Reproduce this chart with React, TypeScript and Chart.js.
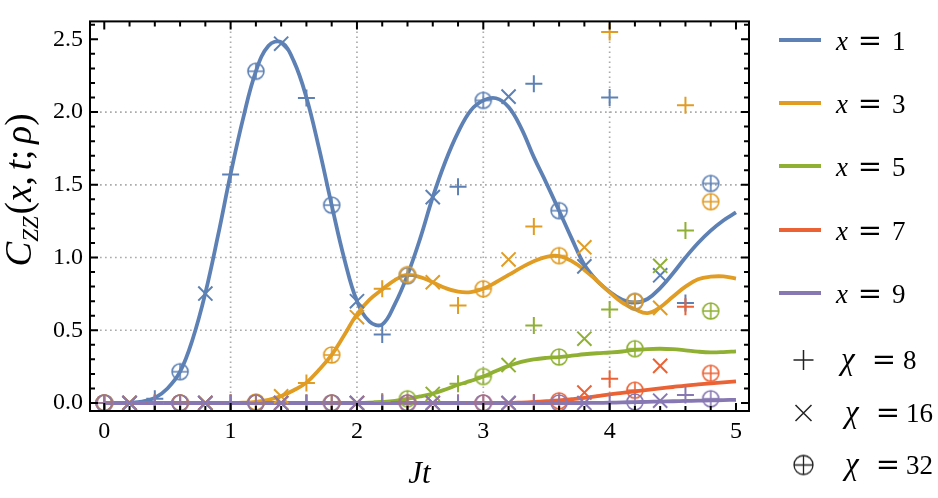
import React, { useEffect, useRef } from "react";
import { Chart, registerables } from "chart.js";

Chart.register(...registerables);

// Time grid (Jt) on which the exact correlation curves are sampled
const T_GRID = [
  0.0, 0.1, 0.2, 0.3, 0.4, 0.5, 0.6, 0.7, 0.8, 0.9,
  1.0, 1.1, 1.2, 1.3, 1.4, 1.5, 1.6, 1.7, 1.8, 1.9,
  2.0, 2.1, 2.2, 2.3, 2.4, 2.5, 2.6, 2.7, 2.8, 2.9,
  3.0, 3.1, 3.2, 3.3, 3.4, 3.5, 3.6, 3.7, 3.8, 3.9,
  4.0, 4.1, 4.2, 4.3, 4.4, 4.5, 4.6, 4.7, 4.8, 4.9, 5.0,
];

// Exact C_ZZ(x,t) curves, one per distance x
const CURVE_X1 = [
  0.000, 0.000, 0.002, 0.010, 0.035, 0.100, 0.215, 0.440, 0.755, 1.150,
  1.575, 1.960, 2.280, 2.455, 2.480, 2.350, 2.100, 1.750, 1.360, 0.990,
  0.700, 0.560, 0.540, 0.680, 0.880, 1.130, 1.415, 1.660, 1.860, 2.010,
  2.080, 2.095, 2.035, 1.890, 1.690, 1.510, 1.322, 1.130, 0.950, 0.840,
  0.765, 0.710, 0.690, 0.715, 0.790, 0.890, 1.000, 1.100, 1.185, 1.255, 1.310,
];
const CURVE_X3 = [
  0.000, 0.000, 0.000, 0.000, 0.000, 0.000, 0.000, 0.000, 0.000, 0.000,
  0.000, 0.002, 0.008, 0.022, 0.048, 0.088, 0.140, 0.228, 0.330, 0.467,
  0.610, 0.710, 0.780, 0.845, 0.880, 0.865, 0.830, 0.790, 0.765, 0.762,
  0.785, 0.830, 0.880, 0.930, 0.975, 1.005, 1.010, 0.975, 0.915, 0.840,
  0.760, 0.690, 0.645, 0.618, 0.658, 0.730, 0.800, 0.850, 0.868, 0.870, 0.855,
];
const CURVE_X5 = [
  0.000, 0.000, 0.000, 0.000, 0.000, 0.000, 0.000, 0.000, 0.000, 0.000,
  0.000, 0.000, 0.000, 0.000, 0.000, 0.000, 0.000, 0.000, 0.000, 0.000,
  0.000, 0.002, 0.007, 0.015, 0.029, 0.045, 0.065, 0.093, 0.125, 0.152,
  0.182, 0.220, 0.255, 0.283, 0.300, 0.310, 0.316, 0.325, 0.335, 0.342,
  0.347, 0.354, 0.365, 0.371, 0.373, 0.370, 0.362, 0.353, 0.348, 0.350, 0.355,
];
const CURVE_X7 = [
  0.000, 0.000, 0.000, 0.000, 0.000, 0.000, 0.000, 0.000, 0.000, 0.000,
  0.000, 0.000, 0.000, 0.000, 0.000, 0.000, 0.000, 0.000, 0.000, 0.000,
  0.000, 0.000, 0.000, 0.000, 0.000, 0.000, 0.000, 0.000, 0.000, 0.000,
  0.000, 0.000, 0.000, 0.003, 0.007, 0.012, 0.018, 0.026, 0.035, 0.047,
  0.060, 0.070, 0.080, 0.090, 0.100, 0.110, 0.120, 0.128, 0.135, 0.142, 0.149,
];
const CURVE_X9 = [
  0.000, 0.000, 0.000, 0.000, 0.000, 0.000, 0.000, 0.000, 0.000, 0.000,
  0.000, 0.000, 0.000, 0.000, 0.000, 0.000, 0.000, 0.000, 0.000, 0.000,
  0.000, 0.000, 0.000, 0.000, 0.000, 0.000, 0.000, 0.000, 0.000, 0.000,
  0.000, 0.000, 0.000, 0.000, 0.000, 0.000, 0.000, 0.000, 0.000, 0.001,
  0.002, 0.004, 0.006, 0.008, 0.010, 0.012, 0.014, 0.016, 0.018, 0.020, 0.022,
];

// Sample times of the bond-dimension runs
const T_CHI8 = [0.4, 1.0, 1.6, 2.2, 2.8, 3.4, 4.0, 4.6];
const T_CHI16 = [0.2, 0.8, 1.4, 2.0, 2.6, 3.2, 3.8, 4.4];
const T_CHI32 = [0.0, 0.6, 1.2, 1.8, 2.4, 3.0, 3.6, 4.2, 4.8];

// chi = 8 results
const X1_CHI8 = [0.03, 1.57, 2.097, 0.47, 1.487, 2.195, 2.1, 0.687];
const X3_CHI8 = [0, 0, 0.138, 0.785, 0.67, 1.213, 2.55, 2.046];
const X5_CHI8 = [0, 0, 0, 0.01, 0.133, 0.533, 0.643, 1.185];
const X7_CHI8 = [0, 0, 0, 0, 0, 0.003, 0.167, 0.662];
const X9_CHI8 = [0, 0, 0, 0, 0, 0, 0, 0.055];

// chi = 16 results
const X1_CHI16 = [0.0, 0.752, 2.47, 0.7, 1.415, 2.106, 0.939, 0.878];
const X3_CHI16 = [0, 0, 0.046, 0.59, 0.83, 0.987, 1.07, 0.654];
const X5_CHI16 = [0, 0, 0, 0, 0.062, 0.261, 0.442, 0.943];
const X7_CHI16 = [0, 0, 0, 0, 0, 0, 0.072, 0.255];
const X9_CHI16 = [0, 0, 0, 0, 0, 0, 0, 0.016];

// chi = 32 results
const X1_CHI32 = [0, 0.215, 2.28, 1.36, 0.875, 2.08, 1.322, 0.697, 1.509];
const X3_CHI32 = [0, 0, 0.007, 0.33, 0.882, 0.785, 1.013, 0.697, 1.384];
const X5_CHI32 = [0, 0, 0, 0, 0.029, 0.182, 0.316, 0.373, 0.632];
const X7_CHI32 = [0, 0, 0, 0, 0, 0, 0.015, 0.088, 0.204];
const X9_CHI32 = [0, 0, 0, 0, 0, 0, 0, 0.007, 0.029];

const DISTANCES = ["1", "3", "5", "7", "9"];
const CHI_VALUES = ["8", "16", "32"];
const COLORS = ["#5E81B5", "#E19C24", "#8FB032", "#EB6235", "#8778B3"];

const CURVES = [CURVE_X1, CURVE_X3, CURVE_X5, CURVE_X7, CURVE_X9];
const CHI8 = [X1_CHI8, X3_CHI8, X5_CHI8, X7_CHI8, X9_CHI8];
const CHI16 = [X1_CHI16, X3_CHI16, X5_CHI16, X7_CHI16, X9_CHI16];
const CHI32 = [X1_CHI32, X3_CHI32, X5_CHI32, X7_CHI32, X9_CHI32];

// Axis ticks
const X_MAJOR = [0, 1, 2, 3, 4, 5];
const X_MINOR = [0.2, 0.4, 0.6, 0.8, 1.2, 1.4, 1.6, 1.8, 2.2, 2.4, 2.6, 2.8, 3.2, 3.4, 3.6, 3.8, 4.2, 4.4, 4.6, 4.8];
const X_GRID = [1, 2, 3, 4];
const Y_MAJOR = [0, 0.5, 1.0, 1.5, 2.0, 2.5];
const Y_MINOR = [0.1, 0.2, 0.3, 0.4, 0.6, 0.7, 0.8, 0.9, 1.1, 1.2, 1.3, 1.4, 1.6, 1.7, 1.8, 1.9, 2.1, 2.2, 2.3, 2.4, 2.6];
const Y_GRID = [0.5, 1.0, 1.5, 2.0];

const X_MIN = -0.113;
const X_MAX = 5.103;
const Y_MIN = -0.055;
const Y_MAX = 2.623;

const SERIF = '"Liberation Serif", "Times New Roman", serif';
const EQ_FONT = '"DejaVu Serif", serif';

function circlePlus(color: string, r: number, lw: number) {
  const size = Math.ceil(2 * r + lw + 2);
  const c = document.createElement("canvas");
  c.width = size;
  c.height = size;
  const g = c.getContext("2d")!;
  const m = size / 2;
  g.strokeStyle = color;
  g.lineWidth = lw;
  g.beginPath();
  g.arc(m, m, r, 0, Math.PI * 2);
  g.moveTo(m - r, m);
  g.lineTo(m + r, m);
  g.moveTo(m, m - r);
  g.lineTo(m, m + r);
  g.stroke();
  return c;
}

type Seg = { t: string; it?: boolean; size: number; dy?: number; gap?: number };

function segWidth(ctx: CanvasRenderingContext2D, s: Seg) {
  ctx.font = `${s.it ? "italic " : ""}${s.size}px ${SERIF}`;
  return ctx.measureText(s.t).width + (s.gap || 0);
}

function drawSegs(ctx: CanvasRenderingContext2D, segs: Seg[], x: number, y: number) {
  let cx = x;
  for (const s of segs) {
    ctx.font = `${s.it ? "italic " : ""}${s.size}px ${SERIF}`;
    ctx.fillText(s.t, cx, y + (s.dy || 0));
    cx += ctx.measureText(s.t).width + (s.gap || 0);
  }
  return cx;
}

function drawEquals(ctx: CanvasRenderingContext2D, cx: number, y: number) {
  ctx.font = `29px ${EQ_FONT}`;
  const w = ctx.measureText("=").width;
  ctx.fillText("=", cx - w / 2, y);
}

const gridPlugin = {
  id: "dottedGrid",
  beforeDatasetsDraw(chart: any) {
    const { ctx, chartArea: a } = chart;
    const xs = chart.scales.x;
    const ys = chart.scales.y;
    ctx.save();
    ctx.strokeStyle = "#ababab";
    ctx.lineWidth = 1.7;
    ctx.setLineDash([1.7, 3.3]);
    for (const v of X_GRID) {
      const p = xs.getPixelForValue(v);
      ctx.beginPath();
      ctx.moveTo(p, a.top);
      ctx.lineTo(p, a.bottom);
      ctx.stroke();
    }
    for (const v of Y_GRID) {
      const p = ys.getPixelForValue(v);
      ctx.beginPath();
      ctx.moveTo(a.left, p);
      ctx.lineTo(a.right, p);
      ctx.stroke();
    }
    ctx.restore();
  },
};

const framePlugin = {
  id: "frameAndLabels",
  afterDraw(chart: any) {
    const { ctx, chartArea: a } = chart;
    const xs = chart.scales.x;
    const ys = chart.scales.y;
    ctx.save();
    ctx.strokeStyle = "#000";
    ctx.lineWidth = 2;
    ctx.setLineDash([]);

    // inward ticks on all four sides
    const xTick = (v: number, len: number) => {
      const p = xs.getPixelForValue(v);
      ctx.beginPath();
      ctx.moveTo(p, a.bottom);
      ctx.lineTo(p, a.bottom - len);
      ctx.moveTo(p, a.top);
      ctx.lineTo(p, a.top + len);
      ctx.stroke();
    };
    const yTick = (v: number, len: number) => {
      const p = ys.getPixelForValue(v);
      ctx.beginPath();
      ctx.moveTo(a.left, p);
      ctx.lineTo(a.left + len, p);
      ctx.moveTo(a.right, p);
      ctx.lineTo(a.right - len, p);
      ctx.stroke();
    };
    X_MAJOR.forEach((v) => xTick(v, 8));
    X_MINOR.forEach((v) => xTick(v, 5));
    Y_MAJOR.forEach((v) => yTick(v, 8));
    Y_MINOR.forEach((v) => yTick(v, 5));

    ctx.strokeRect(a.left, a.top, a.right - a.left, a.bottom - a.top);

    ctx.fillStyle = "#000";
    ctx.textBaseline = "alphabetic";
    ctx.textAlign = "left";

    // x-axis title
    const xt: Seg[] = [
      { t: "J", it: true, size: 31 },
      { t: "t", it: true, size: 31 },
    ];
    const xw = xt.reduce((s, g) => s + segWidth(ctx, g), 0);
    drawSegs(ctx, xt, (a.left + a.right) / 2 - xw / 2, 483);

    // y-axis title, rotated
    const yt: Seg[] = [
      { t: "C", it: true, size: 37 },
      { t: "ZZ", it: true, size: 23, dy: 7, gap: 2 },
      { t: "(", size: 37 },
      { t: "x", it: true, size: 37 },
      { t: ",", size: 37, gap: 6 },
      { t: "t", it: true, size: 37 },
      { t: ";", size: 37, gap: 6 },
      { t: "ρ", it: true, size: 37 },
      { t: ")", size: 37 },
    ];
    const yw = yt.reduce((s, g) => s + segWidth(ctx, g), 0);
    ctx.save();
    ctx.translate(31, 190);
    ctx.rotate(-Math.PI / 2);
    drawSegs(ctx, yt, -yw / 2, 0);
    ctx.restore();

    // legend: distances
    const rowsY = [40, 103, 166, 230, 293];
    DISTANCES.forEach((d, i) => {
      const y = rowsY[i];
      ctx.strokeStyle = COLORS[i];
      ctx.lineWidth = 4;
      ctx.beginPath();
      ctx.moveTo(779, y);
      ctx.lineTo(821, y);
      ctx.stroke();
      ctx.fillStyle = "#000";
      drawSegs(ctx, [{ t: "x", it: true, size: 27 }], 836, y + 10);
      drawEquals(ctx, 870, y + 10);
      ctx.font = `27px ${SERIF}`;
      ctx.fillText(d, 892, y + 10);
    });

    // legend: bond dimensions
    const chiY = [360, 413, 465];
    const mx = 803.5;
    ctx.strokeStyle = "#222";
    ctx.lineWidth = 1.5;
    ctx.beginPath();
    ctx.moveTo(mx - 10, chiY[0]);
    ctx.lineTo(mx + 10, chiY[0]);
    ctx.moveTo(mx, chiY[0] - 10);
    ctx.lineTo(mx, chiY[0] + 10);
    ctx.moveTo(mx - 8, chiY[1] - 8);
    ctx.lineTo(mx + 8, chiY[1] + 8);
    ctx.moveTo(mx + 8, chiY[1] - 8);
    ctx.lineTo(mx - 8, chiY[1] + 8);
    ctx.stroke();
    ctx.drawImage(circlePlus("#222", 9.5, 1.3), mx - 11.5, chiY[2] - 11.5);
    const chiX = [841, 845, 845];
    const eqX = [884, 888, 888];
    const valX = [903, 906, 906];
    CHI_VALUES.forEach((v, i) => {
      const y = chiY[i] + 8.5;
      ctx.fillStyle = "#000";
      drawSegs(ctx, [{ t: "χ", it: true, size: 31 }], chiX[i], y);
      drawEquals(ctx, eqX[i], y);
      ctx.font = `27px ${SERIF}`;
      ctx.fillText(v, valX[i], y);
    });

    ctx.restore();
  },
};

export default function App() {
  const ref = useRef<HTMLCanvasElement>(null);

  useEffect(() => {
    const datasets: any[] = [];

    CURVES.forEach((curve, i) => {
      datasets.push({
        type: "line",
        data: T_GRID.map((t, k) => ({ x: t, y: curve[k] })),
        borderColor: COLORS[i],
        borderWidth: 3.8,
        pointRadius: 0,
        fill: false,
        tension: 0.4,
        order: 20 + (4 - i),
      });
    });

    COLORS.forEach((color, i) => {
      const plusImg = circlePlus(color, 8, 1.6);
      datasets.push({
        type: "scatter",
        data: T_CHI8.map((t, k) => ({ x: t, y: CHI8[i][k] })),
        pointStyle: "cross",
        pointRadius: 8.5,
        pointBorderWidth: 2,
        borderColor: color,
        backgroundColor: color,
        showLine: false,
        clip: false,
        order: 5 + (4 - i) * 3,
      });
      datasets.push({
        type: "scatter",
        data: T_CHI16.map((t, k) => ({ x: t, y: CHI16[i][k] })),
        pointStyle: "crossRot",
        pointRadius: 10,
        pointBorderWidth: 2,
        borderColor: color,
        backgroundColor: color,
        showLine: false,
        clip: false,
        order: 4 + (4 - i) * 3,
      });
      datasets.push({
        type: "scatter",
        data: T_CHI32.map((t, k) => ({ x: t, y: CHI32[i][k] })),
        pointStyle: plusImg,
        pointRadius: 8,
        borderColor: color,
        backgroundColor: color,
        showLine: false,
        clip: false,
        order: 3 + (4 - i) * 3,
      });
    });

    const chart = new Chart(ref.current!, {
      type: "line",
      data: { datasets },
      options: {
        animation: false,
        responsive: false,
        devicePixelRatio: 1,
        events: [],
        layout: { padding: { left: 0, right: 189, top: 4, bottom: 0 } },
        plugins: {
          legend: { display: false },
          tooltip: { enabled: false },
        },
        scales: {
          x: {
            type: "linear",
            min: X_MIN,
            max: X_MAX,
            grid: { display: false, drawTicks: false },
            border: { display: false },
            afterBuildTicks: (scale: any) => {
              scale.ticks = X_MAJOR.map((value) => ({ value }));
            },
            afterFit: (scale: any) => {
              scale.height = 87;
            },
            ticks: {
              autoSkip: false,
              maxRotation: 0,
              padding: 6,
              color: "#000",
              font: { family: SERIF, size: 24 },
              callback: (v: any) => String(v),
            },
          },
          y: {
            type: "linear",
            min: Y_MIN,
            max: Y_MAX,
            grid: { display: false, drawTicks: false },
            border: { display: false },
            afterBuildTicks: (scale: any) => {
              scale.ticks = Y_MAJOR.map((value) => ({ value }));
            },
            afterFit: (scale: any) => {
              scale.width = 90;
            },
            ticks: {
              autoSkip: false,
              padding: 7,
              color: "#000",
              font: { family: SERIF, size: 24 },
              callback: (v: any) => Number(v).toFixed(1),
            },
          },
        },
      },
      plugins: [gridPlugin, framePlugin],
    } as any);

    return () => chart.destroy();
  }, []);

  return (
    <div
      style={{
        position: "fixed",
        left: 0,
        top: 0,
        width: 938,
        height: 498,
        background: "#fff",
      }}
    >
      <canvas
        ref={ref}
        width={938}
        height={498}
        style={{ display: "block", width: 938, height: 498 }}
      />
    </div>
  );
}
